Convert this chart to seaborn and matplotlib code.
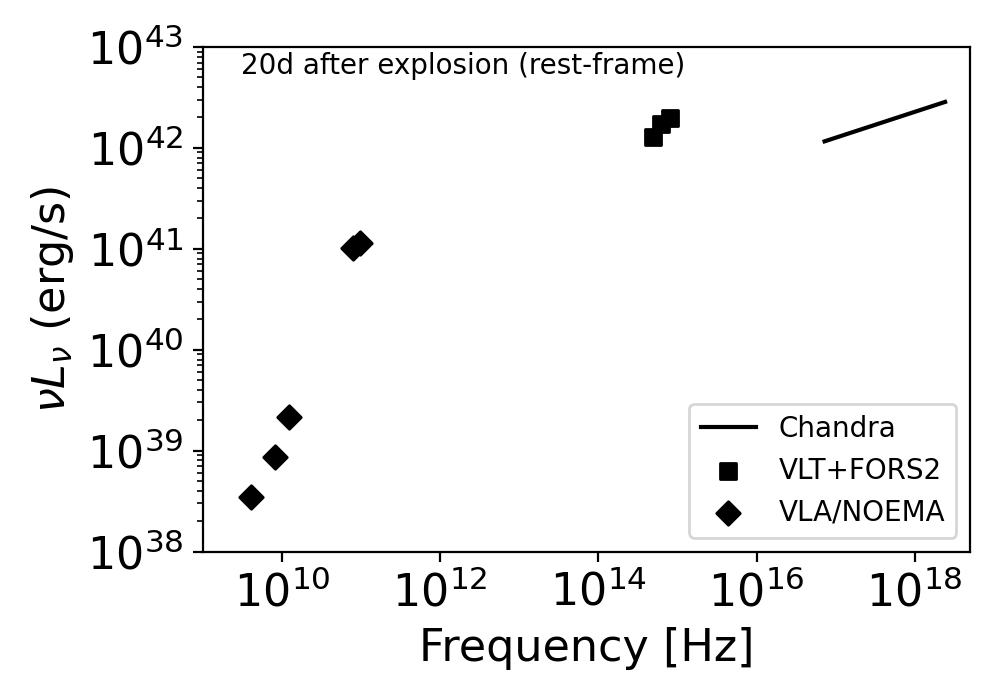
import numpy as np
import pandas as pd
import matplotlib
matplotlib.use("Agg")
import matplotlib.pyplot as plt
from matplotlib.ticker import LogLocator
import seaborn as sns

# Chandra 0.3-10 keV band
xray_freq = [7.25e16, 2.42e18]
xray_lum = [1.16e42, 2.85e42]

# VLT+FORS2 optical
opt_freq = [4.97e14, 6.15e14, 8.07e14]
opt_lum = [1.28e42, 1.74e42, 1.98e42]

# VLA/NOEMA radio/mm
radio_freq = [4.06e9, 8.06e9, 1.21e10, 7.9e10, 9.8e10]
radio_lum = [3.47e38, 8.65e38, 2.15e39, 1.01e41, 1.15e41]

xray_df = pd.DataFrame({"freq": xray_freq, "lum": xray_lum})
opt_df = pd.DataFrame({"freq": opt_freq, "lum": opt_lum})
radio_df = pd.DataFrame({"freq": radio_freq, "lum": radio_lum})

fig, ax = plt.subplots(figsize=(5, 3.5), dpi=200)
fig.subplots_adjust(left=0.203, right=0.97, bottom=0.212, top=0.933)

sns.lineplot(data=xray_df, x="freq", y="lum", color="black", linewidth=1.5,
             label="Chandra", ax=ax)
sns.scatterplot(data=opt_df, x="freq", y="lum", marker="s", color="black",
                edgecolor="black", linewidth=1, s=36, label="VLT+FORS2", ax=ax)
sns.scatterplot(data=radio_df, x="freq", y="lum", marker="D", color="black",
                edgecolor="black", linewidth=1, s=36, label="VLA/NOEMA", ax=ax)

ax.set_xscale("log")
ax.set_yscale("log")
ax.set_xlim(1e9, 5e18)
ax.set_ylim(1e38, 1e43)

# every decade on the y axis, with minor ticks in between
ax.yaxis.set_major_locator(LogLocator(base=10, numticks=20))
ax.yaxis.set_minor_locator(LogLocator(base=10, subs=np.arange(2, 10), numticks=20))

ax.set_xlabel("Frequency [Hz]", fontsize=16)
ax.set_ylabel(r"$\nu L_\nu$ (erg/s)", fontsize=16)
ax.tick_params(axis="both", which="major", labelsize=16)

ax.text(0.05, 0.99, "20d after explosion (rest-frame)", transform=ax.transAxes,
        fontsize=10, va="top", ha="left")

ax.legend(loc="lower right", fontsize=10)

fig.savefig("out.png", dpi=200)
